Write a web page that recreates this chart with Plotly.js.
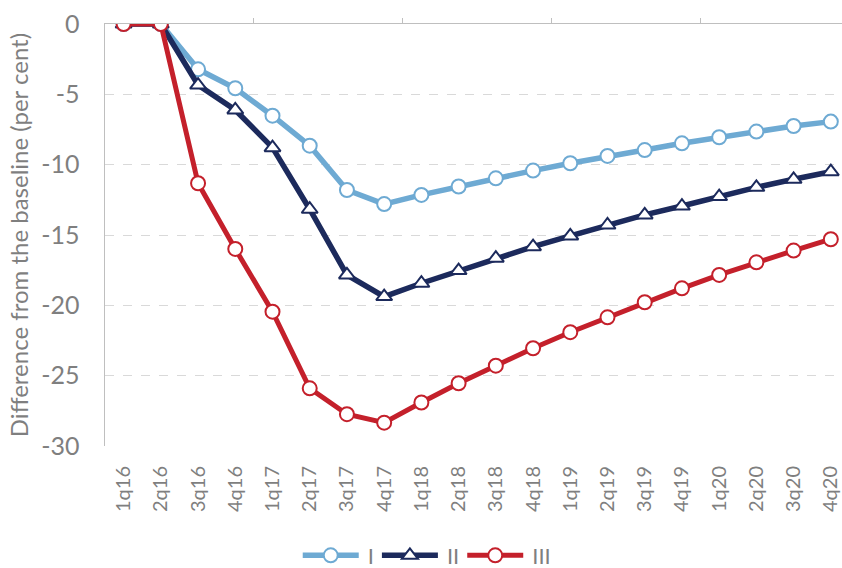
<!DOCTYPE html>
<html>
<head>
<meta charset="utf-8">
<script src="https://cdn.plot.ly/plotly-3.0.1.min.js"></script>
<style>html,body{margin:0;padding:0;background:#fff;}#chart{width:842px;height:568px;}</style>
</head>
<body>
<div id="chart"></div>
<script>
const categories = ["1q16","2q16","3q16","4q16","1q17","2q17","3q17","4q17","1q18","2q18","3q18","4q18","1q19","2q19","3q19","4q19","1q20","2q20","3q20","4q20"];
const seriesI   = [0, 0, -3.22, -4.57, -6.52, -8.65, -11.8, -12.8, -12.15, -11.55, -10.97, -10.42, -9.9, -9.38, -8.96, -8.48, -8.05, -7.65, -7.25, -6.94];
const seriesII  = [0, 0, -4.34, -6.11, -8.79, -13.17, -17.84, -19.38, -18.43, -17.53, -16.65, -15.83, -15.07, -14.29, -13.57, -12.94, -12.27, -11.61, -11.04, -10.5];
const seriesIII = [0, 0, -11.32, -15.99, -20.45, -25.9, -27.74, -28.34, -26.91, -25.54, -24.29, -23.05, -21.91, -20.85, -19.78, -18.79, -17.84, -16.94, -16.11, -15.3];
const names = ["I", "II", "III"];
const yTicks = [0, -5, -10, -15, -20, -25, -30];
const yearBoundaries = [3.5, 7.5, 11.5, 15.5];

const gray = "#7f7f7f";
const font = "Lato, 'Open Sans', sans-serif";

const traces = [
  {x: [0], y: [0], xaxis: "x2", yaxis: "y", mode: "markers", marker: {opacity: 0}, showlegend: false, hoverinfo: "skip"},
  {x: categories, y: seriesI, name: names[0], type: "scatter", mode: "lines+markers",
   line: {color: "#6eaad3", width: 5.5},
   marker: {symbol: "circle", size: 14, color: "#ffffff", line: {color: "#6eaad3", width: 2}}},
  {x: categories, y: seriesII, name: names[1], type: "scatter", mode: "lines+markers",
   line: {color: "#1c2a5c", width: 5.5},
   marker: {symbol: "triangle-up", size: 14, color: "#ffffff", line: {color: "#1c2a5c", width: 2}}},
  {x: categories, y: seriesIII, name: names[2], type: "scatter", mode: "lines+markers",
   line: {color: "#c4202b", width: 5},
   marker: {symbol: "circle", size: 14, color: "#ffffff", line: {color: "#c4202b", width: 2}}}
];

const layout = {
  width: 842, height: 568,
  margin: {l: 105, r: 0, t: 24, b: 122},
  paper_bgcolor: "#ffffff", plot_bgcolor: "#ffffff",
  font: {family: font, color: gray, size: 20},
  showlegend: true,
  legend: {orientation: "h", xref: "container", yref: "container", x: 0.508, xanchor: "center",
           y: 0.022, yanchor: "middle", font: {size: 22, color: gray}, itemwidth: 58, tracegroupgap: 0,
           bgcolor: "rgba(0,0,0,0)"},
  xaxis: {type: "category", range: [-0.5, 19.3], tickangle: -90, showgrid: false, showline: false,
          ticks: "", tickfont: {size: 20, color: gray}, ticklabelstandoff: 15, zeroline: false, fixedrange: true},
  xaxis2: {overlaying: "x", side: "top", range: [-0.5, 19.3], showline: true, linecolor: "#bfbfbf", linewidth: 1.5,
           ticks: "outside", ticklen: 5, tickcolor: "#bfbfbf", tickvals: yearBoundaries, showticklabels: false,
           showgrid: false, zeroline: false},
  yaxis: {range: [-30, 0], tickvals: yTicks, ticktext: yTicks.map(String), showgrid: true, gridcolor: "#d9d9d9",
          griddash: "dash", gridwidth: 1, zeroline: false, showline: true, linecolor: "#bfbfbf", linewidth: 1.5,
          ticks: "", tickfont: {size: 25, color: gray}, ticklabelstandoff: 19,
          title: {text: "Difference from the baseline (per cent)", font: {size: 24, color: gray}, standoff: 6}}
};

Plotly.newPlot("chart", traces, layout, {displayModeBar: false, staticPlot: true}).then(function (gd) {
  // lengthen legend line samples to match the reference
  gd.querySelectorAll(".legend .traces").forEach(function (t) {
    t.querySelectorAll(".legendlines path").forEach(function (p) { p.setAttribute("d", "M3,0h56"); });
    t.querySelectorAll(".legendsymbols .legendpoints path").forEach(function (p) {
      p.setAttribute("transform", "translate(31,0)");
    });
  });
});
</script>
</body>
</html>
